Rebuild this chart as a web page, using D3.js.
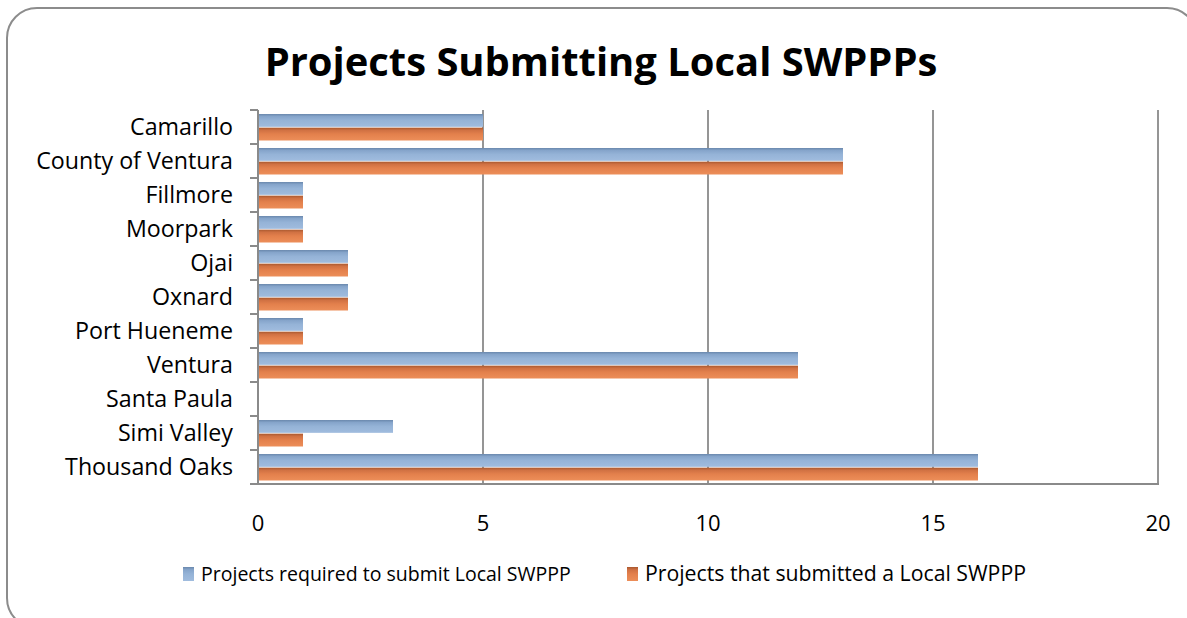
<!DOCTYPE html>
<html>
<head>
<meta charset="utf-8">
<script src="https://cdn.jsdelivr.net/npm/d3@7"></script>
<style>
  body { margin:0; background:#fff; }
  text { font-family: "Open Sans", "Noto Sans", sans-serif; fill:#000; }
</style>
</head>
<body>
<svg id="svg1" width="1187" height="618"></svg>
<script>
var categories = ["Camarillo","County of Ventura","Fillmore","Moorpark","Ojai","Oxnard",
                  "Port Hueneme","Ventura","Santa Paula","Simi Valley","Thousand Oaks"]
var required  = [5,13,1,1,2,2,1,12,0,3,16]
var submitted = [5,13,1,1,2,2,1,12,0,1,16]
var seriesNames = ["Projects required to submit Local SWPPP","Projects that submitted a Local SWPPP"]
var xTicks = [0,5,10,15,20]

var svg = d3.select("#svg1")
var axisCol = "#8a8a8a"

// gradients for the bevelled bars
var defs = svg.append("defs")
function grad(id, stops){
    var g = defs.append("linearGradient").attr("id",id)
        .attr("x1",0).attr("x2",0).attr("y1",0).attr("y2",1)
    stops.forEach(function(s){ g.append("stop").attr("offset",s[0]).attr("stop-color",s[1]) })
}
grad("gBlue",[[0,"#6a88ad"],[0.2,"#86a5cb"],[0.5,"#95b3d7"],[1,"#a0bcde"]])
grad("gOrange",[[0,"#a9582f"],[0.2,"#d07143"],[0.5,"#e3804c"],[1,"#ec8e59"]])
var fills = ["url(#gBlue)","url(#gOrange)"]

// outer rounded frame
svg.append("rect").attr("x",7).attr("y",8).attr("width",1190).attr("height",620)
    .attr("rx",30).attr("ry",30).attr("fill","none").attr("stroke","#8c8c8c").attr("stroke-width",2)

var x = d3.scaleLinear().domain([0,20]).range([258,1158])
var y = d3.scaleBand().domain(categories).range([110,484])
var yin = d3.scaleBand().domain([0,1]).range([4,30.5]).paddingInner(0.06)

// fit text to a measured width
function fit(sel, w){
    var l = sel.node().getComputedTextLength()
    var fs = parseFloat(sel.attr("font-size"))
    sel.attr("font-size", fs*w/l)
}

// title
var title = svg.append("text").attr("x",601).attr("y",76).attr("text-anchor","middle")
    .attr("font-size",40).attr("font-weight","bold").text("Projects Submitting Local SWPPPs")
fit(title, 673)

// gridlines
svg.append("g").selectAll("line").data(xTicks.slice(1)).enter().append("line")
    .attr("x1",function(d){return x(d)}).attr("x2",function(d){return x(d)})
    .attr("y1",110).attr("y2",484).attr("stroke",axisCol).attr("stroke-width",1.8)

// bars
var data = []
categories.forEach(function(c,i){
    data.push({c:c, s:0, v:required[i]})
    data.push({c:c, s:1, v:submitted[i]})
})
svg.append("g").selectAll("rect").data(data.filter(function(d){return d.v>0})).enter().append("rect")
    .attr("x",x(0)).attr("y",function(d){return y(d.c)+yin(d.s)})
    .attr("width",function(d){return x(d.v)-x(0)}).attr("height",yin.bandwidth())
    .attr("fill",function(d){return fills[d.s]})

// left axis with ticks at category boundaries
var yAxis = svg.append("g")
yAxis.append("line").attr("x1",x(0)).attr("x2",x(0)).attr("y1",110).attr("y2",485)
    .attr("stroke",axisCol).attr("stroke-width",2)
var bounds = categories.map(function(c){return y(c)}).concat([484])
yAxis.selectAll("line.t").data(bounds).enter().append("line").attr("class","t")
    .attr("x1",250).attr("x2",x(0)).attr("y1",function(d){return d}).attr("y2",function(d){return d})
    .attr("stroke",axisCol).attr("stroke-width",2)
var labs = yAxis.selectAll("text").data(categories).enter().append("text")
    .attr("x",233).attr("y",function(d){return y(d)+y.bandwidth()/2+8})
    .attr("text-anchor","end").attr("font-size",20).text(function(d){return d})
// scale all labels by the width of the longest one
var longest = labs.filter(function(d){return d=="County of Ventura"}).node().getComputedTextLength()
labs.attr("font-size", 20*197/longest)

// bottom axis
var xAxis = svg.append("g")
xAxis.append("line").attr("x1",250).attr("x2",x(20)+1).attr("y1",484).attr("y2",484)
    .attr("stroke",axisCol).attr("stroke-width",2)
xAxis.selectAll("text").data(xTicks).enter().append("text")
    .attr("x",function(d){return x(d)}).attr("y",531)
    .attr("text-anchor","middle").attr("font-size",22).text(function(d){return d})

// legend
var lx = [183, 627], lw = [370, 381]
var leg = svg.append("g").selectAll("g").data(seriesNames).enter().append("g")
leg.append("rect").attr("x",function(d,i){return lx[i]}).attr("y",567).attr("width",11).attr("height",14)
    .attr("fill",function(d,i){return fills[i]})
leg.append("text").attr("x",function(d,i){return lx[i]+18}).attr("y",581)
    .attr("font-size",16).text(function(d){return d})
    .each(function(d,i){ fit(d3.select(this), lw[i]) })
</script>
</body>
</html>
